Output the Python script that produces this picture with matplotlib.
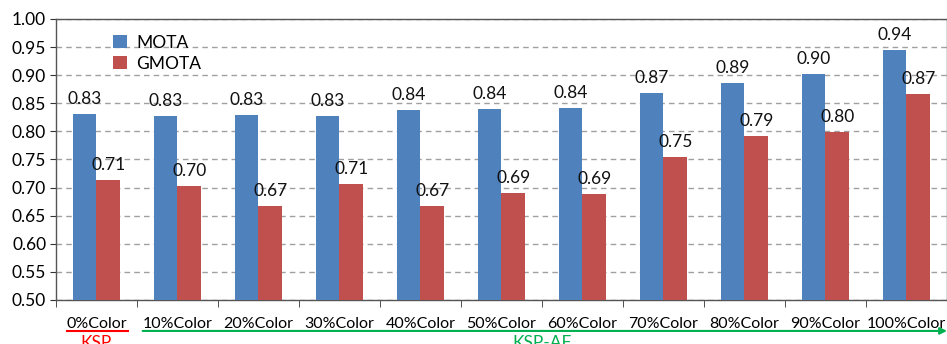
import matplotlib.pyplot as plt
from matplotlib.transforms import blended_transform_factory
import numpy as np

plt.rcParams['font.family'] = ['Lato', 'DejaVu Sans']

categories = ['0%Color', '10%Color', '20%Color', '30%Color', '40%Color', '50%Color',
              '60%Color', '70%Color', '80%Color', '90%Color', '100%Color']
mota = [0.831, 0.827, 0.829, 0.828, 0.838, 0.840, 0.841, 0.868, 0.886, 0.902, 0.944]
gmota = [0.714, 0.703, 0.668, 0.706, 0.668, 0.690, 0.689, 0.754, 0.791, 0.799, 0.867]
yticks = [0.50, 0.55, 0.60, 0.65, 0.70, 0.75, 0.80, 0.85, 0.90, 0.95, 1.00]

blue = '#4F81BD'
red = '#C0504D'
fs = 12.5
fs_small = 11.5

fig = plt.figure(figsize=(9.47, 3.44), dpi=100)
ax = fig.add_axes([0.0591, 0.128, 0.9409, 0.817])

x = np.arange(len(categories))
w = 0.29
b1 = ax.bar(x - w / 2, mota, w, color=blue, label='MOTA', zorder=3)
b2 = ax.bar(x + w / 2, gmota, w, color=red, label='GMOTA', zorder=3)

for bars, vals in ((b1, mota), (b2, gmota)):
    for rect, v in zip(bars, vals):
        ax.annotate(f'{v:.2f}', (rect.get_x() + rect.get_width() / 2, v),
                    xytext=(0, 5), textcoords='offset points',
                    ha='center', va='bottom', fontsize=fs, color='#111111')

ax.set_ylim(0.5, 1.0)
ax.set_xlim(-0.5, len(categories) - 0.5)
ax.set_yticks(yticks)
ax.set_yticklabels([f'{t:.2f}' for t in yticks], fontsize=fs)
ax.yaxis.grid(True, linestyle=(0, (4, 3)), color='#A0A0A0', linewidth=1, zorder=0)

# category labels sit between tick marks drawn at the group boundaries
ax.set_xticks(x)
ax.set_xticklabels(categories, fontsize=fs_small)
ax.tick_params(axis='x', length=0, pad=12)
ax.set_xticks(np.arange(len(categories) + 1) - 0.5, minor=True)
ax.tick_params(axis='x', which='minor', length=5, direction='out', color='#333333')
ax.tick_params(axis='y', length=4, direction='out', color='#333333', pad=3)

for s in ax.spines.values():
    s.set_color('#555555')
    s.set_linewidth(1)

ax.legend(loc='upper left', bbox_to_anchor=(0.047, 1.0), frameon=False,
          fontsize=fs, handlelength=0.8, handleheight=0.8,
          labelspacing=0.3, handletextpad=0.5)

# method brackets under the category labels
tr = blended_transform_factory(ax.transData, fig.transFigure)
ax.plot([-0.36, 0.39], [0.038, 0.038], transform=tr, color='#FF0000',
        linewidth=1.5, clip_on=False)
ax.text(0.0, 0.027, 'KSP', transform=tr, color='#FF0000', ha='center',
        va='top', fontsize=fs)
ax.annotate('', xy=(10.5, 0.038), xytext=(0.57, 0.038), xycoords=tr,
            textcoords=tr,
            arrowprops=dict(arrowstyle='-|>', color='#00B050', lw=1.5,
                            mutation_scale=10, shrinkA=0, shrinkB=0))
ax.text(5.5, 0.027, 'KSP-AF', transform=tr, color='#00B050', ha='center',
        va='top', fontsize=fs)

fig.savefig('out.png', dpi=100)
